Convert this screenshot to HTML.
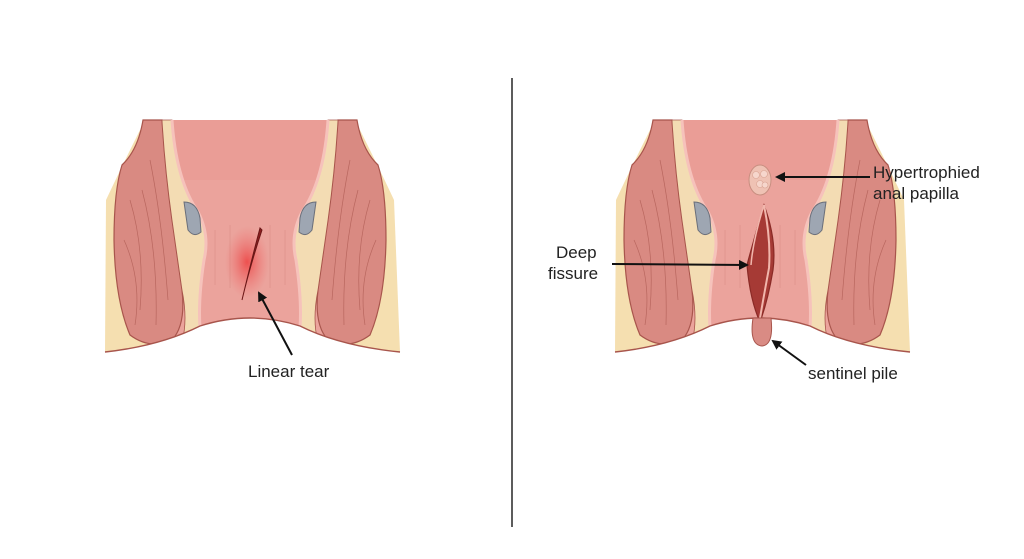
<!DOCTYPE html>
<html><head><meta charset="utf-8"><style>
html,body{margin:0;padding:0;background:#fff;width:1024px;height:559px;overflow:hidden}
text{font-family:"Liberation Sans",sans-serif;font-size:17px;fill:#222}
</style></head><body>
<svg width="1024" height="559" viewBox="0 0 1024 559" xmlns="http://www.w3.org/2000/svg">
<defs>
<radialGradient id="glow" cx="0.5" cy="0.5" r="0.5"><stop offset="0" stop-color="#ee3b3b" stop-opacity="0.8"/><stop offset="1" stop-color="#ee6a6a" stop-opacity="0"/></radialGradient>
<marker id="ah" markerWidth="10" markerHeight="10" refX="8" refY="5" orient="auto" markerUnits="userSpaceOnUse"><path d="M0,0 L10,5 L0,10 Z" fill="#111"/></marker>
<g id="half">
  <path d="M43,0 L62,0 Q65,50 72,100 L82,170 Q86,205 72,220 Q50,230 30,215 Q15,180 14,120 Q14,70 22,45 Q38,30 43,0 Z" fill="#d98a82" stroke="#a8554c" stroke-width="1.2"/>
  <path d="M30,80 Q45,130 40,190 M42,70 Q58,130 56,205 M24,120 Q42,160 35,205 M50,40 Q62,100 68,180" stroke="#b8665e" stroke-width="0.7" fill="none"/>
  <path d="M62,0 L72,0 Q76,60 98,92 Q110,115 104,140 Q98,180 100,208 L82,222 Q88,200 82,170 L72,100 Q65,50 62,0 Z" fill="#f3dcb3" stroke="#a8554c" stroke-width="0.8"/>
  <path d="M72,0 Q76,60 98,92 Q110,115 104,140 Q98,180 100,208" stroke="#f6c2bb" stroke-width="3" fill="none"/>
  <path d="M84,82 Q97,82 100,98 L101,112 Q94,118 88,110 Z" fill="#9ea6b2" stroke="#6b6f7a" stroke-width="1"/>
</g>
<g id="body">
  <path d="M5,232 L6,80 Q20,50 40,10 L260,10 Q280,50 294,80 L300,232 Z" fill="#f5dfb0"/>
  <rect x="66" y="0" width="168" height="215" fill="#eba39c"/>
  <rect x="66" y="0" width="168" height="60" fill="#e99a93" opacity="0.6"/>
  <path d="M115,110 L115,165 M130,105 L130,168 M170,105 L170,168 M185,110 L185,165" stroke="#de928b" stroke-width="1.2" fill="none" opacity="0.6"/>
  <use href="#half"/>
  <use href="#half" transform="translate(300,0) scale(-1,1)"/>
  <path d="M5,232 Q60,226 100,206 Q150,190 200,206 Q240,226 300,232 L300,240 L5,240 Z" fill="#fff"/>
  <path d="M5,232 Q60,226 100,206 Q150,190 200,206 Q240,226 300,232" stroke="#a8554c" stroke-width="1.4" fill="none"/>
</g>
</defs>
<use href="#body" transform="translate(100,120)"/>
<use href="#body" transform="translate(610,120)"/>
<ellipse cx="247" cy="262" rx="22" ry="36" fill="url(#glow)"/>
<path d="M260,228 Q252,258 242,300 Q250,266 262,230 Z" fill="#8c1f1f" stroke="#6a1616" stroke-width="1"/>
<ellipse cx="760" cy="180" rx="11" ry="15" fill="#efc2b4" stroke="#c88e80"/>
<circle cx="756" cy="175" r="3.5" fill="#f6d6cc" stroke="#d8a393" stroke-width="0.6"/><circle cx="764" cy="174" r="3.5" fill="#f6d6cc" stroke="#d8a393" stroke-width="0.6"/><circle cx="760" cy="184" r="3.5" fill="#f6d6cc" stroke="#d8a393" stroke-width="0.6"/><circle cx="765" cy="185" r="3" fill="#f6d6cc" stroke="#d8a393" stroke-width="0.6"/>
<path d="M764,205 Q777,240 773,270 Q768,300 760,322 Q750,300 747,265 Q755,235 764,205 Z" fill="#a63a35" stroke="#8a2a26" stroke-width="1.2"/>
<path d="M764,205 Q771,240 769,268 Q764,295 760,318" stroke="#f1b6ac" stroke-width="2" fill="none"/>
<path d="M764,205 Q753,240 751,265" stroke="#f1b6ac" stroke-width="1.5" fill="none"/>
<path d="M753,318 Q749,345 762,346 Q774,345 771,318 Z" fill="#d98b84" stroke="#a8554c"/>
<line x1="512" y1="78" x2="512" y2="527" stroke="#333" stroke-width="1.6"/>
<line x1="292" y1="355" x2="259" y2="293" stroke="#111" stroke-width="2" marker-end="url(#ah)"/>
<line x1="870" y1="177" x2="777" y2="177" stroke="#111" stroke-width="2" marker-end="url(#ah)"/>
<line x1="612" y1="264" x2="747" y2="265" stroke="#111" stroke-width="2" marker-end="url(#ah)"/>
<line x1="806" y1="365" x2="773" y2="341" stroke="#111" stroke-width="2" marker-end="url(#ah)"/>
<text x="248" y="377">Linear tear</text>
<text x="873" y="178">Hypertrophied</text>
<text x="873" y="199">anal papilla</text>
<text x="556" y="258">Deep</text>
<text x="548" y="279">fissure</text>
<text x="808" y="379">sentinel pile</text>
</svg>
</body></html>
